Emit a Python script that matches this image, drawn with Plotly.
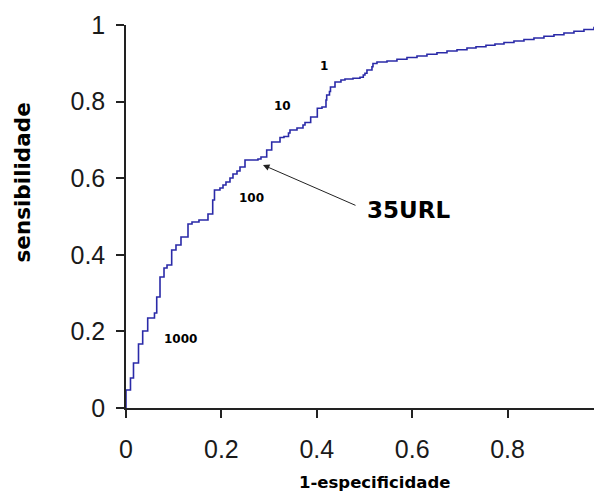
import plotly.graph_objects as go

# ROC curve points (1-especificidade, sensibilidade)
fpr = [0, 0, 0.0094, 0.0157, 0.0262, 0.035, 0.0455, 0.0597, 0.0644, 0.0713, 0.0797,
       0.086, 0.0958, 0.1048, 0.1153, 0.13, 0.1384, 0.153, 0.1719, 0.1818, 0.1855,
       0.197, 0.2034, 0.2096, 0.218, 0.2243, 0.2327, 0.239, 0.2495, 0.2767, 0.283,
       0.295, 0.3055, 0.3229, 0.3312, 0.3407, 0.3438, 0.3585, 0.3711, 0.3753, 0.3872,
       0.4011, 0.4109, 0.4193, 0.4208, 0.4266, 0.4287, 0.4382, 0.4507, 0.4591, 0.4759,
       0.4906, 0.4975, 0.501, 0.5052, 0.5157, 0.5178, 0.5262, 0.5472, 0.5681, 0.5891,
       0.6101, 0.631, 0.652, 0.673, 0.694, 0.7149, 0.7338, 0.7547, 0.7736, 0.7925,
       0.8134, 0.8344, 0.8553, 0.8763, 0.8973, 0.9182, 0.9392, 0.9602, 0.9811, 1.0]
tpr = [0, 0.047, 0.0783, 0.1175, 0.1671, 0.201, 0.235, 0.248, 0.2898, 0.342, 0.3655,
       0.3734, 0.4125, 0.4256, 0.4465, 0.4804, 0.4856, 0.4909, 0.5065, 0.5431, 0.5692,
       0.5744, 0.5822, 0.5901, 0.6005, 0.611, 0.6188, 0.6292, 0.6475, 0.6501, 0.6554,
       0.6736, 0.6945, 0.7063, 0.7089, 0.718, 0.7258, 0.7311, 0.7389, 0.7454, 0.7598,
       0.7825, 0.7859, 0.8042, 0.8172, 0.8264, 0.8381, 0.8512, 0.8564, 0.859, 0.8609,
       0.8634, 0.8695, 0.8739, 0.8825, 0.8911, 0.8995, 0.9034, 0.906, 0.9104, 0.9151,
       0.9191, 0.9235, 0.9277, 0.9321, 0.9355, 0.94, 0.9433, 0.947, 0.9504, 0.9543,
       0.9582, 0.9621, 0.9661, 0.9705, 0.9747, 0.9791, 0.9836, 0.9883, 0.9935, 1.0]

tick_vals = [0, 0.2, 0.4, 0.6, 0.8, 1]
tick_text = ["0", "0.2", "0.4", "0.6", "0.8", "1"]

# threshold labels: text, x, y
thr_text = ["1", "10", "100", "1000"]
thr_x = [0.4157, 0.3277, 0.2635, 0.1153]
thr_y = [0.8937, 0.7885, 0.5491, 0.1794]

cut_label = "35URL"
cut_point = (0.2872, 0.6345)
cut_label_pos = (0.5933, 0.517)
arrow_tail = (0.4843, 0.5274)

x_title = "1-especificidade"
y_title = "sensibilidade"

fig = go.Figure()
fig.add_trace(go.Scatter(
    x=fpr, y=tpr, mode="lines", line=dict(color="#2a2aa8", width=1.6, shape="hv"),
    hoverinfo="skip", showlegend=False))

tick_font = dict(family="Liberation Sans, Arial, sans-serif", size=25, color="#1a1a1a")
axis_common = dict(showline=True, linecolor="#222", linewidth=1.5, ticks="outside",
                   ticklen=8, tickwidth=1.5, tickcolor="#222", showgrid=False,
                   zeroline=False, tickvals=tick_vals, ticktext=tick_text,
                   tickfont=tick_font, ticklabeloverflow="allow", automargin=False)

# page body has an 8px default margin, so the figure is 8px smaller each way
fig.update_layout(
    width=594, height=485,
    margin=dict(l=118, r=0, t=17, b=85, autoexpand=False),
    paper_bgcolor="white", plot_bgcolor="white",
    xaxis=dict(range=[0, 0.998], ticklabelstandoff=10, **axis_common),
    yaxis=dict(range=[0, 1], ticklabelstandoff=6, **axis_common),
)

for t, x, y in zip(thr_text, thr_x, thr_y):
    fig.add_annotation(x=x, y=y, text=t, showarrow=False,
                       font=dict(family="DejaVu Sans", size=12, color="#000", weight="bold"))

fig.add_annotation(x=cut_point[0], y=cut_point[1], ax=arrow_tail[0], ay=arrow_tail[1],
                   axref="x", ayref="y", text="", showarrow=True, arrowhead=2,
                   arrowsize=1.3, arrowwidth=1, arrowcolor="#222")
fig.add_annotation(x=cut_label_pos[0], y=cut_label_pos[1], text=cut_label, showarrow=False,
                   font=dict(family="DejaVu Sans", size=23, color="#000", weight="bold"))

fig.add_annotation(xref="paper", yref="paper", x=0.522, y=-0.1958, text=x_title,
                   showarrow=False, xanchor="center", yanchor="middle",
                   font=dict(family="DejaVu Sans", size=16.5, color="#000", weight="bold"))
fig.add_annotation(xref="paper", yref="paper", x=-0.2185, y=0.5888, text=y_title,
                   textangle=-90, showarrow=False, xanchor="center", yanchor="middle",
                   font=dict(family="DejaVu Sans", size=21.5, color="#000", weight="bold"))

fig.write_html("out.html")
